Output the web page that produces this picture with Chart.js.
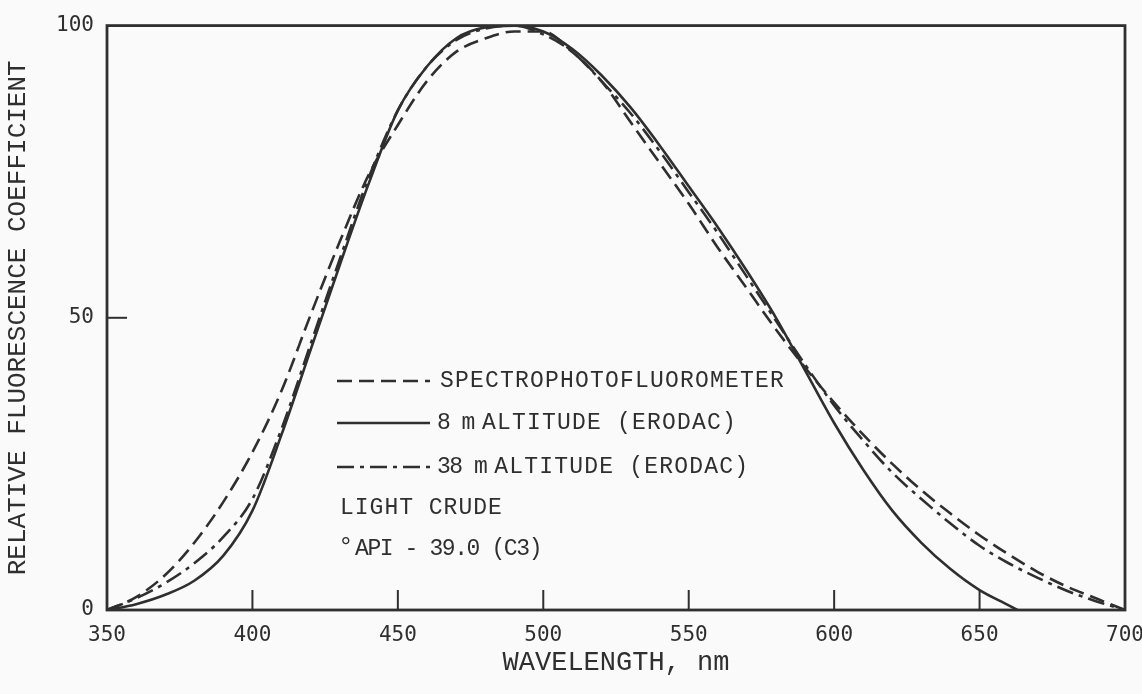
<!DOCTYPE html>
<html>
<head>
<meta charset="utf-8">
<script src="https://cdn.jsdelivr.net/npm/chart.js@4.4.1/dist/chart.umd.min.js"></script>
<style>
  html, body { margin: 0; padding: 0; background: #fafafa; }
</style>
</head>
<body>
<canvas id="fluorChart" width="1142" height="694"></canvas>
<script>
// wavelength grid, nm
const wavelength = [350, 360, 370, 380, 390, 400, 410, 420, 430, 440, 450, 460, 470, 480, 490, 500, 510, 520,
  530, 540, 550, 560, 570, 580, 590, 600, 610, 620, 630, 640, 650, 660, 670, 680, 690, 700];

// spectrophotofluorometer (dashed)
const spectroValues = [0, 2.2, 6, 11.5, 18.5, 27, 37.5, 50.5, 63, 74.5, 83, 90.5, 95.5, 97.8, 99, 99, 95.5, 90.5,
  83.5, 76.5, 69.5, 62, 55, 48, 41.5, 35.5, 30, 25, 20.5, 16.5, 12.8, 9.5, 6.5, 4, 2, 0];

// 8 m altitude (solid) - ends before 700
const alt8Wavelength = [350, 360, 370, 380, 390, 400, 410, 420, 430, 440, 450, 460, 470, 480, 490, 500, 510, 520,
  530, 540, 550, 560, 570, 580, 590, 600, 610, 620, 630, 640, 650, 660, 663];
const alt8Values = [0, 1, 2.6, 5, 9.3, 17, 30, 44.5, 59, 73, 85.5, 93, 97.8, 99.7, 100, 99, 96, 91.5,
  86, 79.5, 72.5, 65.5, 58, 50, 41, 32, 24, 17, 11.5, 7, 3.4, 0.8, 0];

// 38 m altitude (dash-dot)
const alt38Values = [0, 2, 4.6, 8, 12.5, 19, 31, 45.5, 60, 74, 85.5, 93, 97.5, 99.5, 100, 98.5, 95.5, 90.5,
  85, 78.5, 71.5, 64.5, 57, 49.5, 42, 35, 29, 23.5, 19, 14.8, 11, 8, 5.5, 3.3, 1.5, 0];

const seriesLabels = ['SPECTROPHOTOFLUOROMETER', '8 m ALTITUDE (ERODAC)', '38 m ALTITUDE (ERODAC)'];
const noteLines = ['LIGHT CRUDE', 'API - 39.0 (C3)'];

const ink = '#2f2f2f';
const dashed = [15, 7];
const dashDot = [17, 6, 4, 6];

function toPoints(xs, ys) {
  return xs.map((x, i) => ({ x: x, y: ys[i] }));
}

const figurePlugin = {
  id: 'figure',
  beforeDraw(chart) {
    const ctx = chart.ctx;
    ctx.save();
    ctx.fillStyle = '#fafafa';
    ctx.fillRect(0, 0, chart.width, chart.height);
    ctx.restore();
  },
  afterDatasetsDraw(chart) {
    const { ctx, chartArea: a, scales: { x, y } } = chart;
    ctx.save();
    ctx.strokeStyle = ink;
    ctx.lineWidth = 2.8;
    ctx.strokeRect(a.left, a.top, a.right - a.left, a.bottom - a.top);

    // inward tick marks
    ctx.lineWidth = 2;
    x.ticks.forEach(t => {
      if (t.value <= x.min || t.value >= x.max) return;
      const px = x.getPixelForValue(t.value);
      ctx.beginPath(); ctx.moveTo(px, a.bottom); ctx.lineTo(px, a.bottom - 20); ctx.stroke();
    });
    y.ticks.forEach(t => {
      if (t.value <= y.min || t.value >= y.max) return;
      const py = y.getPixelForValue(t.value);
      ctx.beginPath(); ctx.moveTo(a.left, py); ctx.lineTo(a.left + 20, py); ctx.stroke();
    });

    // legend inside the plot
    const rows = [381, 423, 467];
    ctx.fillStyle = ink;
    ctx.textBaseline = 'middle';
    ctx.font = '23px "Liberation Mono"';
    chart.data.datasets.forEach((ds, i) => {
      ctx.lineWidth = 2.6;
      ctx.setLineDash(ds.borderDash || []);
      ctx.beginPath(); ctx.moveTo(337, rows[i]); ctx.lineTo(430, rows[i]); ctx.stroke();
      ctx.setLineDash([]);
      const cut = ds.label.indexOf('ALTITUDE');
      if (cut > 0) {
        // "8 m" / "38 m" set tighter than the rest, as in the typed original
        const head = ds.label.slice(0, cut).trim();
        ctx.letterSpacing = '-1.5px';
        ctx.fillText(head, 437, rows[i]);
        const w = ctx.measureText(head).width;
        ctx.letterSpacing = '1.2px';
        ctx.fillText(ds.label.slice(cut), 437 + w + 8, rows[i]);
      } else {
        ctx.letterSpacing = '1.2px';
        ctx.fillText(ds.label, 440, rows[i]);
      }
    });
    ctx.letterSpacing = '1px';
    ctx.fillText(noteLines[0], 340, 508);
    ctx.font = '26px "Liberation Mono"';
    ctx.letterSpacing = '0px';
    ctx.fillText('\u00b0', 338, 547);
    ctx.font = '23px "Liberation Mono"';
    ctx.letterSpacing = '-1.4px';
    ctx.fillText(noteLines[1], 355, 549);
    ctx.restore();
  }
};

new Chart(document.getElementById('fluorChart'), {
  type: 'line',
  data: {
    datasets: [
      {
        label: seriesLabels[0],
        data: toPoints(wavelength, spectroValues),
        borderColor: ink, borderWidth: 2.6, borderDash: dashed,
        pointRadius: 0, cubicInterpolationMode: 'monotone', fill: false
      },
      {
        label: seriesLabels[1],
        data: toPoints(alt8Wavelength, alt8Values),
        borderColor: ink, borderWidth: 2.6,
        pointRadius: 0, cubicInterpolationMode: 'monotone', fill: false
      },
      {
        label: seriesLabels[2],
        data: toPoints(wavelength, alt38Values),
        borderColor: ink, borderWidth: 2.6, borderDash: dashDot,
        pointRadius: 0, cubicInterpolationMode: 'monotone', fill: false
      }
    ]
  },
  options: {
    responsive: false,
    animation: false,
    layout: { padding: { top: 22, right: 17, left: 0, bottom: 0 } },
    plugins: { legend: { display: false }, tooltip: { enabled: false } },
    scales: {
      x: {
        type: 'linear', min: 350, max: 700,
        grid: { display: false, drawTicks: false }, border: { display: false },
        ticks: { stepSize: 50, color: ink, padding: 13, maxRotation: 0,
          font: { family: 'DejaVu Sans Mono', size: 21 } },
        title: { display: true, text: 'WAVELENGTH, nm', color: ink,
          font: { family: 'Liberation Mono', size: 27 }, padding: { top: 0, bottom: 15 } },
        afterFit(scale) { scale.height = 84; scale.paddingLeft = 0; scale.paddingRight = 0; }
      },
      y: {
        min: 0, max: 100,
        grid: { display: false, drawTicks: false }, border: { display: false },
        ticks: { stepSize: 50, color: ink, padding: 13,
          font: { family: 'DejaVu Sans Mono', size: 21 } },
        title: { display: true, text: 'RELATIVE FLUORESCENCE COEFFICIENT', color: ink,
          font: { family: 'Liberation Mono', size: 26 }, padding: { top: 3, bottom: 0 } },
        afterFit(scale) { scale.width = 107; }
      }
    }
  },
  plugins: [figurePlugin]
});
</script>
</body>
</html>
